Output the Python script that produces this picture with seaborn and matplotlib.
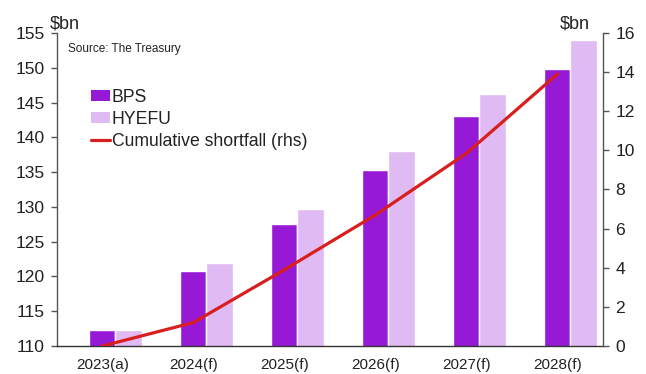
import matplotlib
matplotlib.use("Agg")
import matplotlib.pyplot as plt
import seaborn as sns
import pandas as pd
from matplotlib.patches import Patch
from matplotlib.lines import Line2D

years = ["2023(a)", "2024(f)", "2025(f)", "2026(f)", "2027(f)", "2028(f)"]
bps = [112.3, 120.8, 127.5, 135.3, 143.1, 149.8]
hyefu = [112.3, 122.0, 129.7, 138.0, 146.3, 154.0]
shortfall = [0.0, 1.2, 3.9, 6.7, 9.85, 13.9]

BPS_C = "#9619D6"
HY_C = "#E0BAF2"
RED = "#D91E1E"
GREY = "#555555"
TXT = "#222222"

sns.set_theme(style="white")
plt.rcParams["font.family"] = ["Liberation Sans", "DejaVu Sans"]

df = pd.DataFrame({
    "year": years * 2,
    "value": bps + hyefu,
    "series": ["BPS"] * len(years) + ["HYEFU"] * len(years),
})

fig = plt.figure(figsize=(6.46, 3.74), dpi=100)
ax = fig.add_axes([0.0882, 0.0749, 0.9334 - 0.0882, 0.9118 - 0.0749])

W = 0.572
sns.barplot(data=df, x="year", y="value", hue="series", order=years,
            hue_order=["BPS", "HYEFU"], palette=[BPS_C, HY_C],
            width=W, dodge=True, gap=0, saturation=1, legend=False, ax=ax)
off = W / 4
ax.set_ylim(110, 155)
ax.set_yticks(range(110, 156, 5))
ax.set_xlim(-0.5 - off, 5.5 - off)
xpos = [i - off for i in range(len(years))]
ax.set_xticks(xpos)
ax.set_xticklabels(years)
ax.set_xlabel("")
ax.set_ylabel("")

ax2 = ax.twinx()
sns.lineplot(x=xpos, y=shortfall, color=RED, linewidth=2.3, ax=ax2)
ax2.set_ylim(0, 16)
ax2.set_yticks(range(0, 17, 2))
ax2.set_xlim(ax.get_xlim())

for a in (ax, ax2):
    a.spines["top"].set_visible(False)
    for s in a.spines.values():
        s.set_color(GREY)
        s.set_linewidth(1.0)
ax.spines["right"].set_visible(False)
ax2.spines["left"].set_visible(False)
ax2.spines["bottom"].set_visible(False)
ax.spines["bottom"].set_color("#333333")

ax.tick_params(axis="y", which="both", left=True, length=4, width=1, color=GREY,
               labelsize=12.6, labelcolor=TXT, pad=5)
ax.tick_params(axis="x", bottom=False, labelsize=11, labelcolor=TXT, pad=2.5)
ax2.tick_params(axis="y", right=True, length=4, width=1, color=GREY,
                labelsize=12.6, labelcolor=TXT, pad=5)

fig.text(50 / 646, 1 - 28 / 374, "$bn", fontsize=13, color=TXT, va="baseline", ha="left")
fig.text(590 / 646, 1 - 28 / 374, "$bn", fontsize=13, color=TXT, va="baseline", ha="right")
ax.text(0.02, 0.95, "Source: The Treasury", transform=ax.transAxes,
        fontsize=8.5, color=TXT, va="center", ha="left")

handles = [Patch(facecolor=BPS_C, edgecolor="none"),
           Patch(facecolor=HY_C, edgecolor="none"),
           Line2D([0], [0], color=RED, linewidth=2.3)]
ax.legend(handles, ["BPS", "HYEFU", "Cumulative shortfall (rhs)"],
          loc="upper left", bbox_to_anchor=(0.062, 0.822), frameon=False,
          fontsize=12.7, handlelength=1.08, handleheight=0.55, handletextpad=0.12,
          labelspacing=0.28, borderpad=0, borderaxespad=0, labelcolor=TXT)

fig.savefig("out.png", dpi=100)
